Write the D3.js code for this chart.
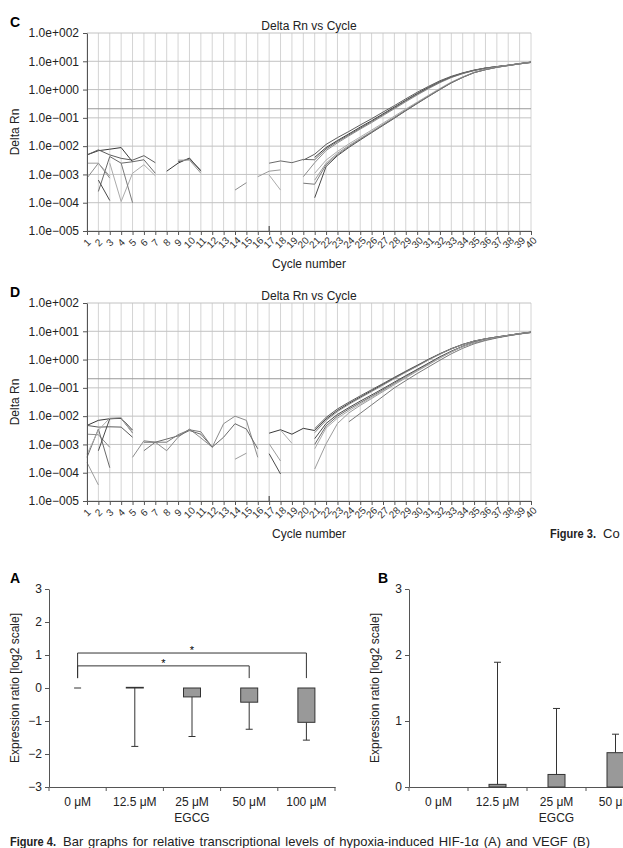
<!DOCTYPE html>
<html>
<head>
<meta charset="utf-8">
<script src="https://cdn.jsdelivr.net/npm/d3@7"></script>
<style>
body { margin: 0; background: #fff; }
svg { display: block; font-family: "Liberation Sans", Arial, sans-serif; }
</style>
</head>
<body>
<svg id="fig" width="623" height="848"></svg>
<script>
var _ = null;

// qPCR amplification plots (Delta Rn per cycle, null = not plotted)
var cycles = [1, 2, 3, 4, 5, 6, 7, 8, 9, 10, 11, 12, 13, 14, 15, 16, 17, 18, 19, 20,
    21, 22, 23, 24, 25, 26, 27, 28, 29, 30, 31, 32, 33, 34, 35, 36, 37, 38, 39, 40];
var decades = [1e-5, 1e-4, 1e-3, 1e-2, 1e-1, 1e0, 1e1, 1e2];
var decadeLabels = ["1.0e\u2212005", "1.0e\u2212004", "1.0e\u2212003", "1.0e\u2212002",
    "1.0e\u2212001", "1.0e+000", "1.0e+001", "1.0e+002"];
var threshold = 0.21;
var stubCycle = 17;

// panel C
var cA = [4.9e-3, 6.9e-3, 7.8e-3, 8.9e-3, 2.8e-3, _, _, 1.3e-3, 2.5e-3, 3.8e-3, 1.3e-3, _, _, _, _, _, _, _, _, _,
    4.0e-3, 8.9e-3, 0.0158, 0.027, 0.047, 0.079, 0.138, 0.24, 0.42, 0.72, 1.2, 1.9, 2.8, 3.8, 4.8, 5.75, 6.5, 7.2, 8.3, 9.3];
var cB = [4.9e-3, 7.4e-3, 4.9e-3, 3.7e-3, 3.2e-3, 4.6e-3, 2.6e-3, _, 2.8e-3, 3.5e-3, 1.4e-3, _, _, _, _, _, _, _, _, 3.2e-3,
    5.2e-3, 0.0115, 0.02, 0.033, 0.056, 0.093, 0.16, 0.27, 0.47, 0.8, 1.3, 2.05, 2.95, 3.9, 4.9, 5.8, 6.5, 7.3, 8.3, 9.4];
var cC = [7.4e-4, 2.5e-3, 7.4e-4, _, _, _, _, _, _, _, _, _, _, 2.8e-4, 5.1e-4, _, _, _, _, 8.3e-4,
    2.6e-3, 7.0e-3, 0.013, 0.023, 0.04, 0.068, 0.12, 0.21, 0.37, 0.64, 1.08, 1.75, 2.65, 3.65, 4.7, 5.7, 6.4, 7.2, 8.2, 9.2];
var cD = [_, 2.5e-4, 4.3e-3, 2.5e-3, 2.8e-3, 3.3e-3, 1.1e-3, _, _, _, _, _, _, _, _, _, 2.5e-3, 3.0e-3, 2.6e-3, 3.4e-3,
    3.3e-3, 8.0e-3, 0.0145, 0.025, 0.043, 0.074, 0.13, 0.225, 0.4, 0.69, 1.15, 1.85, 2.75, 3.75, 4.75, 5.7, 6.45, 7.25, 8.25, 9.3];
var cE = [2.5e-3, 2.5e-3, 8.7e-4, _, _, _, _, _, 3.2e-3, 3.2e-3, 1.1e-3, _, _, _, _, 8.3e-4, 1.3e-3, 1.45e-3, _, _,
    6.3e-4, 2.5e-3, 5.6e-3, 0.0105, 0.0186, 0.033, 0.059, 0.105, 0.19, 0.34, 0.6, 1.05, 1.78, 2.75, 4.0, 5.1, 6.2, 7.1, 8.1, 9.1];
var cF = [_, 6.3e-4, 1.2e-4, _, _, _, _, _, _, _, _, _, _, _, _, _, _, _, _, _,
    1.5e-4, 1.9e-3, 4.6e-3, 9.0e-3, 0.0165, 0.03, 0.054, 0.097, 0.178, 0.32, 0.57, 1.0, 1.72, 2.7, 3.95, 5.05, 6.1, 7.05, 8.1, 9.1];
var cG = [_, _, 2.5e-3, 1.1e-4, 1.1e-3, 2.2e-3, 9.0e-4, _, _, _, _, _, _, _, _, _, 9.5e-4, 2.8e-4, _, _,
    1.1e-3, 3.2e-3, 6.5e-3, 0.012, 0.021, 0.037, 0.065, 0.115, 0.205, 0.36, 0.63, 1.1, 1.85, 2.8, 4.05, 5.15, 6.2, 7.1, 8.15, 9.15];
var cH = [_, _, _, 2.5e-3, 1.0e-4, _, _, _, _, _, _, _, _, _, _, _, _, _, _, 4.9e-4,
    4.5e-4, 2.2e-3, 5.0e-3, 9.6e-3, 0.0175, 0.031, 0.056, 0.1, 0.185, 0.33, 0.58, 1.02, 1.75, 2.72, 3.98, 5.05, 6.15, 7.1, 8.1, 9.05];

// panel D
var dA = [4.7e-3, 7.1e-3, 8.1e-3, 8.5e-3, 3.2e-3, _, _, _, _, _, _, _, _, _, _, _, 2.5e-3, 3.3e-3, 2.3e-3, 3.7e-3,
    3.1e-3, 7.9e-3, 0.0158, 0.028, 0.047, 0.079, 0.132, 0.224, 0.37, 0.6, 1.0, 1.58, 2.4, 3.4, 4.5, 5.4, 6.3, 7.2, 8.3, 9.3];
var dB = [4.7e-3, 4.1e-3, 4.2e-3, 4.1e-3, 1.8e-3, _, _, _, _, _, _, _, _, _, _, _, _, _, _, _,
    3.6e-3, 9.0e-3, 0.018, 0.031, 0.052, 0.086, 0.142, 0.236, 0.39, 0.63, 1.03, 1.62, 2.45, 3.45, 4.5, 5.45, 6.3, 7.2, 8.3, 9.4];
var dC = [2.3e-3, 2.2e-3, 7.9e-4, _, 3.5e-4, 1.35e-3, 1.2e-3, 6.0e-4, 1.8e-3, 3.5e-3, 1.7e-3, 8.0e-4, 5.4e-3, 1.0e-2, 7.1e-3, 3.5e-4, _, _, _, _,
    2.6e-3, 7.0e-3, 0.0145, 0.026, 0.044, 0.074, 0.125, 0.212, 0.355, 0.58, 0.97, 1.55, 2.38, 3.38, 4.48, 5.4, 6.3, 7.2, 8.25, 9.3];
var dD = [3.5e-4, 3.5e-3, 1.5e-4, _, _, 1.2e-3, 1.2e-3, 1.55e-3, 2.0e-3, 3.1e-3, 2.3e-3, 8.0e-4, 1.8e-3, 5.4e-3, 3.5e-3, 7.0e-4, _, _, _, _,
    1.0e-3, 4.5e-3, 0.01, 0.0178, 0.03, 0.05, 0.085, 0.145, 0.25, 0.42, 0.7, 1.2, 1.9, 2.9, 4.0, 5.0, 6.0, 7.1, 8.1, 9.1];
var dE = [2.3e-4, 3.7e-5, _, _, _, _, _, _, _, _, _, _, _, 3.0e-4, 4.9e-4, _, 1.05e-3, 2.6e-4, _, _,
    1.35e-4, 1.05e-3, 5.5e-3, 0.013, 0.024, 0.042, 0.074, 0.13, 0.225, 0.39, 0.66, 1.13, 1.85, 2.85, 3.95, 5.0, 6.0, 7.05, 8.1, 9.1];
var dF = [_, 6.0e-4, 8.1e-3, 8.3e-3, 2.6e-3, _, _, _, _, _, _, _, _, _, _, _, 4.7e-4, 9.0e-5, _, _,
    1.6e-3, 5.5e-3, 0.0115, 0.02, 0.034, 0.056, 0.094, 0.16, 0.27, 0.45, 0.75, 1.26, 1.98, 2.95, 4.05, 5.05, 6.05, 7.1, 8.15, 9.15];
var dG = [4.5e-4, 3.2e-3, 8.5e-3, 8.9e-3, 2.5e-3, _, _, _, _, _, _, _, _, _, _, _, _, 3.2e-3, 1.1e-3, _,
    7.0e-4, 3.8e-3, 8.5e-3, 0.0155, 0.027, 0.046, 0.079, 0.137, 0.24, 0.405, 0.68, 1.17, 1.88, 2.88, 3.98, 5.0, 6.0, 7.1, 8.1, 9.1];
var dH = [_, _, _, _, _, 6.0e-4, 1.2e-3, 1.2e-3, 2.2e-3, 3.3e-3, 2.8e-3, 8.0e-4, _, _, _, _, _, _, _, _,
    _, _, _, 6.3e-3, 0.0125, 0.025, 0.05, 0.1, 0.18, 0.32, 0.55, 0.95, 1.6, 2.5, 3.6, 4.7, 5.8, 6.9, 8.0, 9.0];

var curveColors = ["#3a3a3a", "#5c5c5c", "#8c8c8c", "#6a6a6a", "#9c9c9c", "#4a4a4a", "#ababab", "#7a7a7a"];

// Figure 4 bar graphs (expression ratio, log2 scale)
var doses = ["0 \u03bcM", "12.5 \u03bcM", "25 \u03bcM", "50 \u03bcM", "100 \u03bcM"];
var hifRatio = [0, 0.02, -0.27, -0.43, -1.04];
var hifErrEnd = [0, -1.77, -1.47, -1.25, -1.58];
var vegfRatio = [0, 0.04, 0.19, 0.52, 0.6];
var vegfErrEnd = [0, 1.89, 1.19, 0.80, 1.0];
var hifTicks = [-3, -2, -1, 0, 1, 2, 3];
var vegfTicks = [0, 1, 2, 3];
var sigFrom = "0 \u03bcM";
var sigTo = ["50 \u03bcM", "100 \u03bcM"];
var sigLevel = [0.67, 1.06];
var sigFoot = 0.3;

var svg = d3.select("#fig");
var axisColor = "#555";
var capFont = "'Liberation Sans Narrow', 'Liberation Sans', Arial, sans-serif";

function ampPanel(letter, top, curves) {
    var bottom = top + 198;
    var x = d3.scaleLinear().domain([1, 40]).range([87, 531]);
    var y = d3.scaleLog().domain([1e-5, 1e2]).range([bottom, top]);
    var g = svg.append("g");

    // grid
    g.append("g").selectAll("line").data(cycles).enter().append("line")
        .attr("x1", d => x(d)).attr("x2", d => x(d))
        .attr("y1", top).attr("y2", bottom)
        .attr("stroke", "#d4d4d4");
    g.append("g").selectAll("line").data(decades).enter().append("line")
        .attr("x1", x(1)).attr("x2", x(40))
        .attr("y1", d => y(d)).attr("y2", d => y(d))
        .attr("stroke", "#c2c2c2");
    g.append("line")
        .attr("x1", x(1)).attr("x2", x(40))
        .attr("y1", y(threshold)).attr("y2", y(threshold))
        .attr("stroke", "#999");

    var line = d3.line()
        .defined(d => d != null)
        .x((d, i) => x(cycles[i]))
        .y(d => y(d));

    g.append("g").selectAll("path").data(curves).enter().append("path")
        .attr("d", line)
        .attr("fill", "none")
        .attr("stroke", (d, i) => curveColors[i])
        .attr("stroke-width", 1);

    g.append("line")
        .attr("x1", x(stubCycle)).attr("x2", x(stubCycle))
        .attr("y1", bottom).attr("y2", bottom - 5)
        .attr("stroke", "#333");

    var ya = g.append("g").attr("transform", "translate(87,0)")
        .call(d3.axisLeft(y).tickValues(decades).tickFormat((d, i) => decadeLabels[i])
            .tickSize(4).tickSizeOuter(0).tickPadding(4));
    ya.attr("font-family", null).attr("font-size", null);
    ya.selectAll("path, line").attr("stroke", axisColor);
    ya.selectAll("text").attr("font-size", 12).attr("fill", "#222");

    var xa = g.append("g").attr("transform", "translate(0," + bottom + ")")
        .call(d3.axisBottom(x).tickValues(cycles).tickFormat(d3.format("d"))
            .tickSize(4).tickSizeOuter(0));
    xa.attr("font-family", null).attr("font-size", null);
    xa.selectAll("path, line").attr("stroke", axisColor);
    xa.selectAll("text")
        .attr("y", null).attr("dy", null)
        .attr("font-size", 10).attr("fill", "#333")
        .attr("text-anchor", "middle")
        .attr("transform", "translate(2,14) rotate(-45)");

    g.append("text").attr("x", 10).attr("y", top - 6)
        .attr("font-size", 14).attr("font-weight", "bold").text(letter);
    g.append("text").attr("x", 309).attr("y", top - 3)
        .attr("text-anchor", "middle").attr("font-size", 12).attr("fill", "#222")
        .text("Delta Rn vs Cycle");
    g.append("text").attr("transform", "translate(19," + (top + 99) + ") rotate(-90)")
        .attr("text-anchor", "middle").attr("font-size", 12).attr("fill", "#222")
        .text("Delta Rn");
    g.append("text").attr("x", 309).attr("y", bottom + 37)
        .attr("text-anchor", "middle").attr("font-size", 12).attr("fill", "#222")
        .text("Cycle number");
}

ampPanel("C", 33, [cA, cB, cC, cD, cE, cF, cG, cH]);
ampPanel("D", 303, [dA, dB, dC, dD, dE, dF, dG, dH]);

function barPanel(letter, left, right, yDomain, ticks, ratio, errEnd, zeroDash) {
    var x = d3.scaleBand().domain(doses).range([left, right]);
    var y = d3.scaleLinear().domain(yDomain).range([787, 589]);
    var g = svg.append("g");
    var cx = d => x(d) + x.bandwidth() / 2;
    var bw = 17, cap = 7;

    var ya = g.append("g").attr("transform", "translate(" + left + ",0)")
        .call(d3.axisLeft(y).tickValues(ticks).tickFormat(d => d < 0 ? "\u2212" + (-d) : d)
            .tickSize(4).tickSizeOuter(0));
    ya.attr("font-family", null).attr("font-size", null);
    ya.selectAll("path, line").attr("stroke", axisColor);
    ya.selectAll("text").attr("font-size", 12).attr("fill", "#222");

    var xa = g.append("g").attr("transform", "translate(0,787)")
        .call(d3.axisBottom(x).tickSize(0).tickSizeOuter(0).tickPadding(10));
    xa.attr("font-family", null).attr("font-size", null);
    xa.select(".domain").attr("stroke", axisColor);
    xa.selectAll("text").attr("font-size", 12).attr("fill", "#222");
    g.append("g").selectAll("line").data([left].concat(doses.map(d => x(d) + x.bandwidth())))
        .enter().append("line")
        .attr("x1", d => d).attr("x2", d => d)
        .attr("y1", 787).attr("y2", 791)
        .attr("stroke", axisColor);

    var rows = doses.map((d, i) => ({ dose: d, v: ratio[i], e: errEnd[i] }));

    // error bars
    var eb = rows.filter(r => r.e !== r.v);
    g.append("g").selectAll("line").data(eb).enter().append("line")
        .attr("x1", r => cx(r.dose)).attr("x2", r => cx(r.dose))
        .attr("y1", r => y(r.v)).attr("y2", r => y(r.e))
        .attr("stroke", "#333");
    g.append("g").selectAll("line").data(eb).enter().append("line")
        .attr("x1", r => cx(r.dose) - cap / 2).attr("x2", r => cx(r.dose) + cap / 2)
        .attr("y1", r => y(r.e)).attr("y2", r => y(r.e))
        .attr("stroke", "#333");

    // bars
    g.append("g").selectAll("rect").data(rows.filter(r => r.v !== 0)).enter().append("rect")
        .attr("x", r => cx(r.dose) - bw / 2)
        .attr("width", bw)
        .attr("y", r => y(Math.max(r.v, 0)))
        .attr("height", r => Math.max(Math.abs(y(r.v) - y(0)), 0.5))
        .attr("fill", "#999")
        .attr("stroke", "#333");
    if (zeroDash) {
        g.append("g").selectAll("line").data(rows.filter(r => r.v === 0)).enter().append("line")
            .attr("x1", r => cx(r.dose) - 3.5).attr("x2", r => cx(r.dose) + 3.5)
            .attr("y1", r => y(r.v)).attr("y2", r => y(r.v))
            .attr("stroke", "#333");
    }

    g.append("text").attr("x", letter === "A" ? 10 : 378).attr("y", 583)
        .attr("font-size", 14).attr("font-weight", "bold").text(letter);
    g.append("text").attr("transform", "translate(" + (left - 30) + ",688) rotate(-90)")
        .attr("text-anchor", "middle").attr("font-size", 12).attr("fill", "#222")
        .text("Expression ratio [log2 scale]");
    g.append("text").attr("x", (left + x(doses[4]) + x.bandwidth()) / 2).attr("y", 822)
        .attr("text-anchor", "middle").attr("font-size", 12).attr("fill", "#222")
        .text("EGCG");
    return { x: x, y: y, cx: cx, g: g };
}

var pa = barPanel("A", 49, 335, [-3, 3], hifTicks, hifRatio, hifErrEnd, true);
barPanel("B", 409, 704, [0, 3], vegfTicks, vegfRatio, vegfErrEnd, false);

// significance brackets on panel A
sigTo.forEach(function (to, i) {
    var x0 = pa.cx(sigFrom), x1 = pa.cx(to);
    pa.g.append("path")
        .attr("d", "M" + x0 + "," + pa.y(sigFoot) + "V" + pa.y(sigLevel[i]) + "H" + x1 + "V" + pa.y(sigFoot))
        .attr("fill", "none").attr("stroke", "#333");
    pa.g.append("text").attr("x", (x0 + x1) / 2).attr("y", pa.y(sigLevel[i]) + 1)
        .attr("text-anchor", "middle").attr("font-size", 11).text("*");
});

// captions
svg.append("text").attr("x", 550).attr("y", 538)
    .attr("font-family", capFont).attr("font-size", 13).attr("font-weight", "bold").attr("fill", "#222")
    .attr("textLength", 46).attr("lengthAdjust", "spacingAndGlyphs")
    .text("Figure 3.");
svg.append("text").attr("x", 603).attr("y", 538)
    .attr("font-family", capFont).attr("font-size", 13).attr("fill", "#222")
    .text("Co");

svg.append("text").attr("x", 10).attr("y", 846)
    .attr("font-family", capFont).attr("font-size", 13).attr("font-weight", "bold").attr("fill", "#222")
    .attr("textLength", 46).attr("lengthAdjust", "spacingAndGlyphs")
    .text("Figure 4.");
// justified line: spread the leftover width over the word gaps
var capText = "Bar graphs for relative transcriptional levels of hypoxia-induced HIF-1\u03b1 (A) and VEGF (B)";
var cap4 = svg.append("text").attr("x", 63).attr("y", 846)
    .attr("font-family", capFont).attr("font-size", 13).attr("fill", "#222")
    .text(capText);
var natural = cap4.node().getComputedTextLength();
var gaps = capText.split(" ").length - 1;
cap4.attr("word-spacing", Math.max(0, (527 - natural) / gaps));
</script>
</body>
</html>
